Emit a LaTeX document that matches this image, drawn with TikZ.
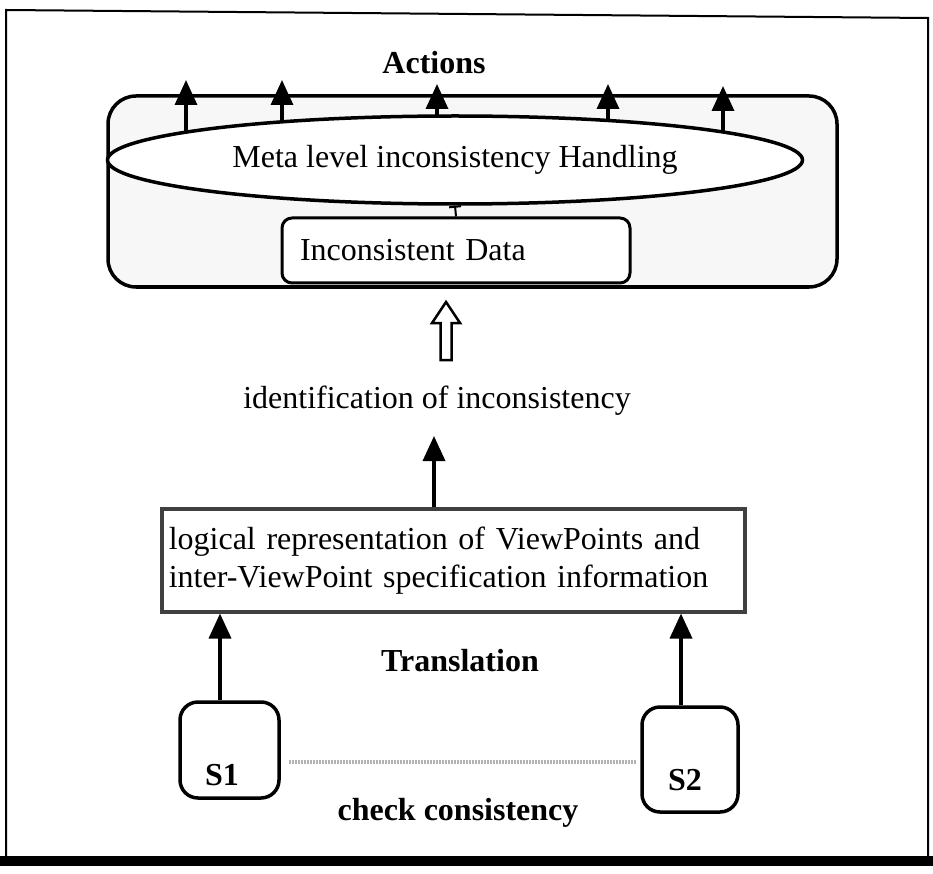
\documentclass[tikz,border=0pt]{standalone}
\usepackage{fontspec}
\setmainfont{Liberation Serif}
\usetikzlibrary{arrows.meta,shapes.geometric}
\begin{document}
\begin{tikzpicture}[x=1pt,y=-1pt,
  txt/.style={font=\fontsize{32}{38}\selectfont, inner sep=0pt},
  btxt/.style={font=\fontsize{32}{38}\selectfont\bfseries, inner sep=0pt},
  uparrow/.style={line width=3.5pt, -{Triangle[length=25pt,width=22pt]}},
  hollowarrow/.style={line width=2.5pt, line join=miter, fill=white},
  sbox/.style={draw, line width=3.5pt, rounded corners=18pt, inner sep=0pt},
  linkline/.style={line width=4pt, black!30, dash pattern=on 2pt off 1pt}
]
\useasboundingbox (0,0) rectangle (933,874);

% page frame with heavy bottom rule
\draw[line width=2pt] (6,858) -- (6,10) -- (928,18) -- (928,858);
\fill (0,856) rectangle (933,866);

% heading
\node[btxt, anchor=base] (actions) at (434,74) {Actions};

% meta-level panel
\node[draw, line width=3.5pt, rounded corners=28pt, fill=black!3,
      minimum width=729pt, minimum height=191pt, inner sep=0pt] (panel) at (472.5,191.5) {};

% action arrows leaving the meta level (their feet are hidden by the ellipse)
\foreach \x/\t [count=\i] in {186/80,282/80,437/84,608/84,723/86} {
  \coordinate (src\i) at (\x,160);
  \coordinate (act\i) at (\x,\t);
  \draw[uparrow] (src\i) -- (act\i);
}

\node[ellipse, draw, line width=3.5pt, fill=white, minimum width=695pt,
      minimum height=88pt, txt] (meta) at (455,160) {Meta level inconsistency Handling};

\node[draw, line width=3pt, rounded corners=10pt, fill=white, minimum width=348pt,
      minimum height=65pt, txt, text width=312pt, align=left, inner xsep=18pt]
      (data) at (456,250.5) {Inconsistent Data};

\draw[line width=2pt, -{Bar[width=12pt,line width=2pt]}] (data.north) -- (meta.south);

% hollow arrow towards the panel
\coordinate (dbl) at (446,360);
\draw[hollowarrow] (dbl) ++(-5.5,0) -- ++(0,-37) -- ++(-8.5,0) -- ++(14,-21)
  -- ++(14,21) -- ++(-8.5,0) -- ++(0,37) -- cycle;

\node[txt, anchor=base] (ident) at (437,408) {identification of inconsistency};

% logical representation
\node[draw=black!75, line width=3.5pt, minimum width=583pt, minimum height=103pt,
      txt, align=left, text width=569pt, inner xsep=7pt, anchor=north west]
      (logic) at (160,507)
      {logical representation of ViewPoints and\\inter-ViewPoint specification information};

\coordinate (identtip) at (434,436);
\draw[uparrow] (logic.north -| identtip) -- (identtip);

% specifications
\node[sbox, minimum width=99pt, minimum height=96pt] (s1) at (229.5,750) {};
\node[btxt, anchor=base] (s1lab) at (222,785) {S1};
\node[sbox, minimum width=96pt, minimum height=105pt] (s2) at (690,759.5) {};
\node[btxt, anchor=base] (s2lab) at (685,790) {S2};

\coordinate (t1) at (220,0);
\coordinate (t2) at (681,0);
\draw[uparrow] (s1.north -| t1) -- (t1 |- logic.south);
\draw[uparrow] (s2.north -| t2) -- (t2 |- logic.south);

\node[btxt, anchor=base] (transl) at (460,671) {Translation};

\coordinate (lk) at (0,762);
\draw[linkline, shorten <=8pt, shorten >=4pt] (s1.east |- lk) -- (s2.west |- lk);

\node[btxt, anchor=base] (check) at (458,820) {check consistency};
\end{tikzpicture}
\end{document}
